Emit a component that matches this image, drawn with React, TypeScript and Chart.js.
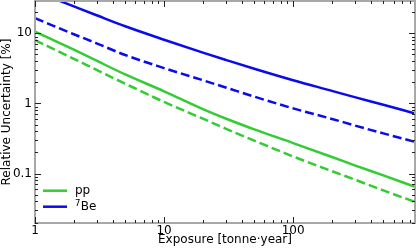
import { useEffect, useRef } from 'react';
import { Chart, registerables } from 'chart.js';

Chart.register(...registerables);

const FONT = "'DejaVu Sans', 'Liberation Sans', sans-serif";

// Exposure [tonne·year]
const exposure = [1, 2, 3, 5, 10, 20, 30, 50, 100, 200, 300, 500, 880];
// Relative uncertainty [%]
const be7Solid = [39.8, 24.2, 18.1, 12.6, 8.1, 5.3, 4.18, 3.12, 2.14, 1.51, 1.23, 0.956, 0.72];
const be7Dashed = [16.4, 9.7, 7.2, 4.9, 3.19, 2.14, 1.69, 1.25, 0.85, 0.6, 0.485, 0.374, 0.283];
const ppSolid = [10.6, 5.84, 4.07, 2.59, 1.49, 0.83, 0.61, 0.427, 0.272, 0.172, 0.131, 0.094, 0.0646];
const ppDashed = [8.0, 4.33, 3.01, 1.91, 1.05, 0.605, 0.437, 0.295, 0.175, 0.108, 0.082, 0.0575, 0.0393];

const seriesNames = ['pp', '⁷Be'];
const xTickValues = [1, 10, 100];
const yTickValues = [0.1, 1, 10];
const xLimits = [1, 880];
const yLimits = [0.0197, 28.9];

const GREEN = '#33cc33';
const BLUE = '#0a0aee';

function logTicks(min: number, max: number) {
  const out: { v: number; major: boolean }[] = [];
  for (let e = Math.floor(Math.log10(min)); e <= Math.ceil(Math.log10(max)); e++) {
    for (let k = 1; k < 10; k++) {
      const v = parseFloat((k * Math.pow(10, e)).toPrecision(6));
      if (v >= min * 0.9999 && v <= max * 1.0001) out.push({ v, major: k === 1 });
    }
  }
  return out;
}

const SUPERS: Record<string, string> = { '⁷': '7' };

const framePlugin = {
  id: 'frameTicksLegend',
  afterDraw(chart: any) {
    const { ctx, chartArea: a, scales } = chart;
    const xs = scales.x;
    const ys = scales.y;
    ctx.save();
    // spines
    ctx.strokeStyle = '#a8a8a8';
    ctx.lineWidth = 2;
    ctx.strokeRect(a.left, a.top, a.right - a.left, a.bottom - a.top);
    // inward ticks on all sides
    ctx.strokeStyle = '#222';
    ctx.lineWidth = 1;
    ctx.beginPath();
    for (const t of logTicks(xLimits[0], xLimits[1])) {
      const px = Math.round(xs.getPixelForValue(t.v)) + 0.5;
      const len = t.major ? 6 : 3;
      ctx.moveTo(px, a.bottom);
      ctx.lineTo(px, a.bottom - len);
      ctx.moveTo(px, a.top);
      ctx.lineTo(px, a.top + len);
    }
    for (const t of logTicks(yLimits[0], yLimits[1])) {
      const py = Math.round(ys.getPixelForValue(t.v)) + 0.5;
      const len = t.major ? 6 : 3;
      ctx.moveTo(a.left, py);
      ctx.lineTo(a.left + len, py);
      ctx.moveTo(a.right, py);
      ctx.lineTo(a.right - len, py);
    }
    ctx.stroke();
    // legend (inside, lower left)
    const items = chart.data.datasets.filter((d: any) => d.inLegend);
    ctx.fillStyle = '#000';
    ctx.textAlign = 'left';
    ctx.textBaseline = 'alphabetic';
    items.forEach((d: any, i: number) => {
      const ly = a.bottom - 32.3 + i * 16;
      ctx.strokeStyle = d.borderColor;
      ctx.lineWidth = 2.5;
      ctx.setLineDash([]);
      ctx.beginPath();
      ctx.moveTo(a.left + 8, ly);
      ctx.lineTo(a.left + 32, ly);
      ctx.stroke();
      let tx = a.left + 40;
      const base = ly + 3.5;
      for (const ch of Array.from(d.label as string)) {
        if (SUPERS[ch]) {
          ctx.font = `8.5px ${FONT}`;
          ctx.fillText(SUPERS[ch], tx, base - 4.5);
          tx += ctx.measureText(SUPERS[ch]).width + 0.3;
        } else {
          ctx.font = `12px ${FONT}`;
          ctx.fillText(ch, tx, base);
          tx += ctx.measureText(ch).width;
        }
      }
    });
    ctx.restore();
  },
};

export default function App() {
  const ref = useRef<HTMLCanvasElement | null>(null);

  useEffect(() => {
    document.body.style.margin = '0';
    const canvas = ref.current;
    if (!canvas) return;
    const mk = (vals: number[]) => exposure.map((x, i) => ({ x, y: vals[i] }));
    const common = { borderWidth: 2.5, pointRadius: 0, fill: false, clip: 0, cubicInterpolationMode: 'monotone' };
    const chart = new Chart(canvas, {
      type: 'line',
      data: {
        datasets: [
          { ...common, label: seriesNames[0], data: mk(ppSolid), borderColor: GREEN, inLegend: true } as any,
          { ...common, label: seriesNames[0] + ' (dashed)', data: mk(ppDashed), borderColor: GREEN, borderDash: [9, 4], inLegend: false } as any,
          { ...common, label: seriesNames[1], data: mk(be7Solid), borderColor: BLUE, inLegend: true } as any,
          { ...common, label: seriesNames[1] + ' (dashed)', data: mk(be7Dashed), borderColor: BLUE, borderDash: [9, 4], inLegend: false } as any,
        ],
      },
      options: {
        responsive: false,
        animation: false,
        devicePixelRatio: 1,
        layout: { padding: { top: 1, right: 1, left: 0, bottom: 0 } },
        plugins: { legend: { display: false }, tooltip: { enabled: false } },
        scales: {
          x: {
            type: 'logarithmic',
            min: xLimits[0],
            max: xLimits[1],
            bounds: 'data',
            grid: { display: false, drawTicks: false },
            border: { display: false },
            afterBuildTicks: (s: any) => { s.ticks = xTickValues.map((v) => ({ value: v })); },
            afterFit: (s: any) => { s.height = 28; s.paddingLeft = 0; s.paddingRight = 0; },
            ticks: {
              autoSkip: false,
              maxRotation: 0,
              padding: 1,
              color: '#000',
              font: { family: FONT, size: 12 },
              callback: (v: any) => String(v),
            },
            title: {
              display: true,
              text: 'Exposure [tonne·year]',
              color: '#000',
              font: { family: FONT, size: 12 },
              padding: { top: 0, bottom: 4 },
            },
          },
          y: {
            type: 'logarithmic',
            min: yLimits[0],
            max: yLimits[1],
            bounds: 'data',
            grid: { display: false, drawTicks: false },
            border: { display: false },
            afterBuildTicks: (s: any) => { s.ticks = yTickValues.map((v) => ({ value: v })); },
            afterFit: (s: any) => { s.width = 35; s.paddingTop = 0; s.paddingBottom = 0; },
            ticks: {
              autoSkip: false,
              padding: 3,
              color: '#000',
              font: { family: FONT, size: 12 },
              callback: (v: any) => String(v),
            },
            title: {
              display: true,
              text: 'Relative Uncertainty [%]',
              color: '#000',
              font: { family: FONT, size: 12, lineHeight: 1 },
              padding: { top: 0.5, bottom: 0 },
            },
          },
        },
      },
      plugins: [framePlugin],
    });
    return () => chart.destroy();
  }, []);

  return (
    <div style={{ width: 416, height: 251 }}>
      <canvas ref={ref} width={416} height={251} style={{ display: 'block' }} />
    </div>
  );
}
